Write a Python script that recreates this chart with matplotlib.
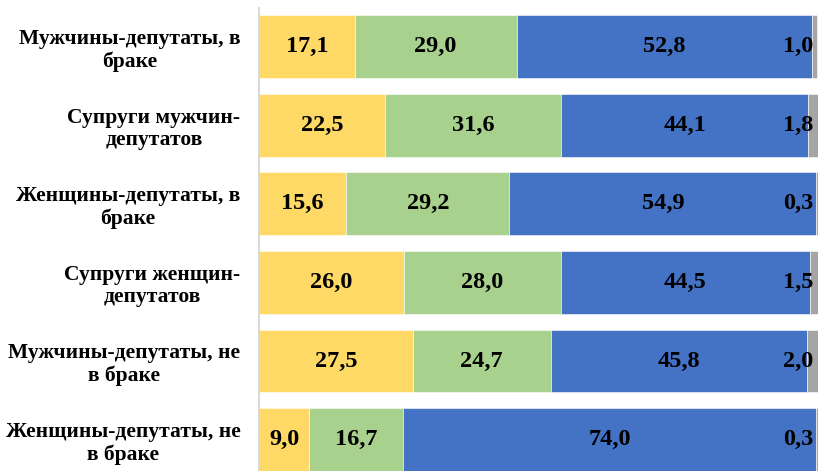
import matplotlib.pyplot as plt
import numpy as np

categories = [
    'Мужчины-депутаты, в\nбраке',
    'Супруги мужчин-\nдепутатов',
    'Женщины-депутаты, в\nбраке',
    'Супруги женщин-\nдепутатов',
    'Мужчины-депутаты, не\nв браке',
    'Женщины-депутаты, не\nв браке',
]
yellow_vals = [17.1, 22.5, 15.6, 26.0, 27.5, 9.0]
green_vals = [29.0, 31.6, 29.2, 28.0, 24.7, 16.7]
blue_vals = [52.8, 44.1, 54.9, 44.5, 45.8, 74.0]
gray_vals = [1.0, 1.8, 0.3, 1.5, 2.0, 0.3]

series = [yellow_vals, green_vals, blue_vals, gray_vals]
colors = ['#FFD966', '#A9D18E', '#4472C4', '#A5A5A5']

fig = plt.figure(figsize=(8.18, 4.71), dpi=100)
ax = fig.add_axes([259 / 818, 0, 1 - 259 / 818, 463.5 / 471])

y = np.arange(len(categories))
left = np.zeros(len(categories))
for vals, col in zip(series, colors):
    ax.barh(y, vals, left=left, height=0.8, color=col, edgecolor='white', linewidth=0.4)
    left += np.array(vals)

# value labels (last one sits inside the right end of the bar)
font = dict(family='Liberation Serif', weight='bold', fontsize=17.5, color='black')
left = np.zeros(len(categories))
for k, vals in enumerate(series):
    for i, v in enumerate(vals):
        txt = f'{v:.1f}'.replace('.', ',')
        if k == len(series) - 1:
            ax.text(left[i] + v - 0.8, i, txt, ha='right', va='center', **font)
        else:
            ax.text(left[i] + v / 2, i, txt, ha='center', va='center', **font)
    left += np.array(vals)

ax.set_xlim(0, 100)
ax.set_ylim(5.4, -0.5)
ax.set_yticks(y)
ax.set_yticklabels(categories, family='Liberation Serif', weight='bold',
                   fontsize=15.5, multialignment='center', linespacing=1.15)
ax.tick_params(axis='y', length=0, pad=13.5)
ax.set_xticks([])
for s in ['top', 'right', 'bottom']:
    ax.spines[s].set_visible(False)
ax.spines['left'].set_color('#D9D9D9')
ax.spines['left'].set_linewidth(1.5)

fig.savefig('out.png', dpi=100)
